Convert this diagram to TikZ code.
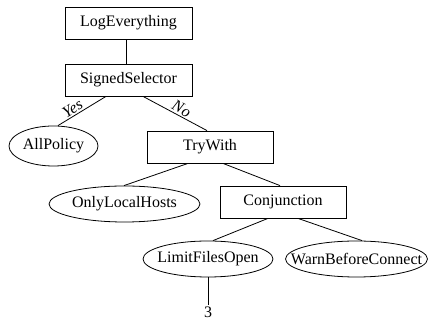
\documentclass[tikz,border=0pt]{standalone}
\usepackage{fontspec}
\setmainfont{Liberation Serif}
\usetikzlibrary{shapes.geometric}
\newcommand{\zw}[1]{\makebox[0pt]{#1}}
\begin{document}
\begin{tikzpicture}[x=1pt,y=1pt,
  every node/.style={font=\fontsize{16}{18}\selectfont},
  box/.style={draw,rectangle,line width=0.8pt,minimum width=127pt,minimum height=32pt,inner sep=0pt},
  oval/.style={draw,ellipse,line width=0.8pt,inner sep=0pt},
  conn/.style={line width=0.8pt},
  lab/.style={font=\fontsize{16}{18}\selectfont\itshape,sloped,above,inner sep=1.5pt}]
\useasboundingbox (0,0) rectangle (428,320);
\node[box] (le) at (128.5,297) {LogEverything};
\node[box] (ss) at (128.5,240) {SignedSelector};
\node[oval,minimum width=89pt,minimum height=40pt] (ap) at (53.5,174) {\zw{AllPolicy}};
\node[box,minimum width=126pt] (tw) at (210,173) {TryWith};
\node[oval,minimum width=151pt,minimum height=36pt] (olh) at (124.5,116) {\zw{OnlyLocalHosts}};
\node[box,minimum width=126pt] (cj) at (283,118) {Conjunction};
\node[oval,minimum width=130pt,minimum height=36pt] (lfo) at (208,61) {\zw{LimitFilesOpen}};
\node[oval,minimum width=142pt,minimum height=36pt] (wbc) at (356.5,61) {\zw{WarnBeforeConnect}};
\node[inner sep=1pt] (three) at (208,8) {3};
\draw[conn] ([xshift=-2.5pt]le.south) -- ([xshift=-2.5pt]ss.north);
\draw[conn] ([xshift=-22.5pt]ss.south) -- node[lab,pos=0.62] {Yes} ([xshift=4.5pt]ap.north);
\draw[conn] ([xshift=14.5pt]ss.south) -- node[lab,pos=0.55] {No} ([xshift=-3pt]tw.north);
\draw[conn] ([xshift=-22pt]tw.south) -- ([xshift=-0.5pt]olh.north);
\draw[conn] ([xshift=13pt]tw.south) -- ([xshift=-3pt]cj.north);
\draw[conn] ([xshift=-15pt]cj.south) -- ([xshift=5pt]lfo.north);
\draw[conn] ([xshift=15pt]cj.south) -- ([xshift=5.5pt]wbc.north);
\draw[conn] (lfo.south) -- (three.north);
\end{tikzpicture}
\end{document}
